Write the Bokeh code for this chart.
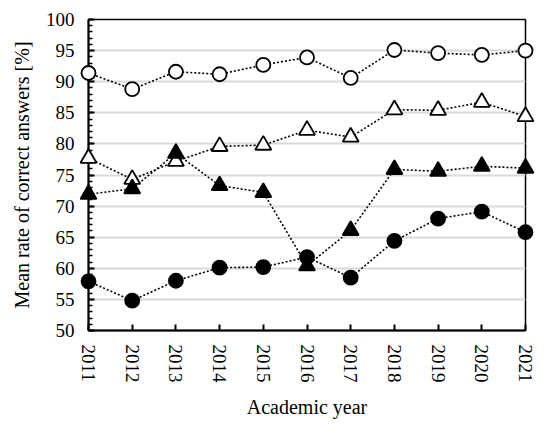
import math
from bokeh.plotting import figure
from bokeh.models import FixedTicker, Range1d
from bokeh.embed import file_html
from bokeh.resources import INLINE

years = [2011, 2012, 2013, 2014, 2015, 2016, 2017, 2018, 2019, 2020, 2021]
open_circle = [91.4, 88.8, 91.6, 91.2, 92.7, 93.9, 90.6, 95.1, 94.6, 94.3, 95.0]
open_triangle = [77.7, 74.3, 77.2, 79.6, 79.8, 82.2, 81.1, 85.5, 85.4, 86.7, 84.4]
filled_triangle = [71.9, 72.8, 78.5, 73.3, 72.2, 60.4, 66.1, 75.9, 75.6, 76.4, 76.1]
filled_circle = [57.9, 54.8, 58.0, 60.1, 60.2, 61.8, 58.5, 64.4, 68.0, 69.1, 65.8]
y_ticks = [50, 55, 60, 65, 70, 75, 80, 85, 90, 95, 100]

FONT = "Liberation Serif"

p = figure(width=537, height=420, output_backend="svg", toolbar_location=None,
           x_range=Range1d(2011, 2021), y_range=Range1d(50, 100),
           min_border_left=88, min_border_right=12, min_border_top=19, min_border_bottom=84)

p.outline_line_color = "black"
p.outline_line_width = 1.5
p.background_fill_color = "white"
p.border_fill_color = "white"

p.xgrid.visible = False
p.ygrid.grid_line_color = "#d9d9d9"
p.ygrid.grid_line_width = 2

# axes
p.xaxis.ticker = FixedTicker(ticks=years)
p.yaxis.ticker = FixedTicker(ticks=y_ticks, minor_ticks=list(range(50, 101)))
p.xaxis.major_label_overrides = {y: str(y) for y in years}
p.xaxis.major_label_orientation = "vertical"
for ax in (p.xaxis[0], p.yaxis[0]):
    ax.axis_line_color = "black"
    ax.axis_line_width = 2
    ax.major_tick_line_color = "black"
    ax.major_tick_line_width = 2
    ax.major_tick_in = 6
    ax.major_tick_out = 0
    ax.minor_tick_line_color = "black"
    ax.minor_tick_line_width = 1.5
    ax.minor_tick_in = 4
    ax.minor_tick_out = 0
    ax.major_label_text_font = FONT
    ax.major_label_text_font_size = "19px"
    ax.major_label_text_color = "black"
    ax.axis_label_text_font = FONT
    ax.axis_label_text_font_size = "20px"
    ax.axis_label_text_font_style = "normal"
    ax.axis_label_text_color = "black"
    ax.major_label_standoff = 14
    ax.axis_label_standoff = 10
p.xaxis.minor_tick_line_color = None
p.xaxis.axis_label = "Academic year"
p.yaxis.axis_label = "Mean rate of correct answers [%]"

series = [
    (open_circle, "circle", "white", 14),
    (open_triangle, "triangle", "white", 16),
    (filled_circle, "circle", "black", 14),
    (filled_triangle, "triangle", "black", 16),
]
for vals, marker, fill, size in series:
    r = p.line(years, vals, line_color="black", line_width=1.6, line_dash="2 2")
    r.level = "overlay"
for vals, marker, fill, size in series:
    r = p.scatter(years, vals, marker=marker, size=size, fill_color=fill,
                  line_color="black", line_width=1.8)
    r.level = "overlay"

open("out.html", "w").write(file_html(p, INLINE))
